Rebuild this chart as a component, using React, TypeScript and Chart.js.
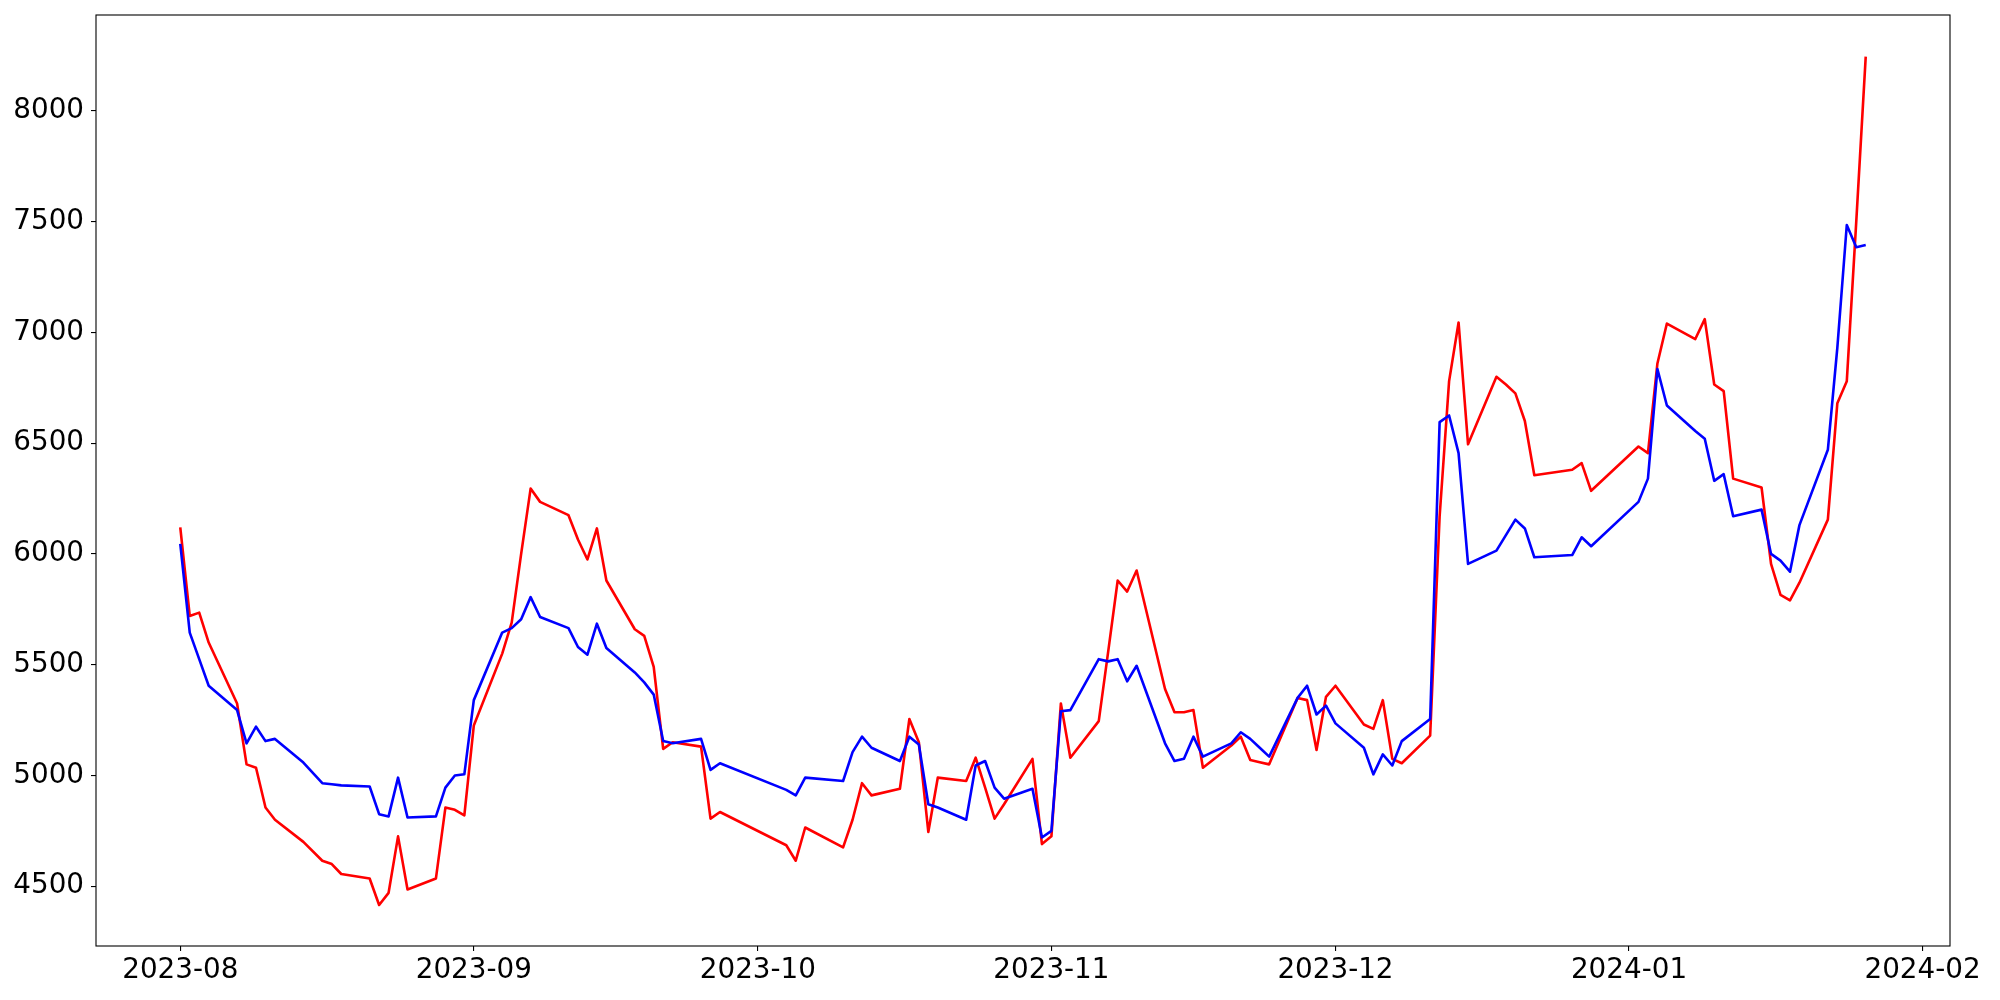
import React, { useEffect, useRef } from "react";
import { Chart, registerables } from "chart.js";

Chart.register(...registerables);

// Trading dates (Aug 2023 - Jan 2024)
const dates: string[] = [
  "2023-08-01", "2023-08-02", "2023-08-03", "2023-08-04", "2023-08-07", "2023-08-08", "2023-08-09", "2023-08-10", "2023-08-11",
  "2023-08-14", "2023-08-16", "2023-08-17", "2023-08-18", "2023-08-21", "2023-08-22", "2023-08-23", "2023-08-24", "2023-08-25",
  "2023-08-28", "2023-08-29", "2023-08-30", "2023-08-31",
  "2023-09-01", "2023-09-04", "2023-09-05", "2023-09-06", "2023-09-07", "2023-09-08", "2023-09-11", "2023-09-12", "2023-09-13",
  "2023-09-14", "2023-09-15", "2023-09-18", "2023-09-19", "2023-09-20", "2023-09-21", "2023-09-22", "2023-09-25", "2023-09-26",
  "2023-09-27",
  "2023-10-04", "2023-10-05", "2023-10-06", "2023-10-10", "2023-10-11", "2023-10-12", "2023-10-13", "2023-10-16", "2023-10-17",
  "2023-10-18", "2023-10-19", "2023-10-20", "2023-10-23", "2023-10-24", "2023-10-25", "2023-10-26", "2023-10-27", "2023-10-30",
  "2023-10-31",
  "2023-11-01", "2023-11-02", "2023-11-03", "2023-11-06", "2023-11-07", "2023-11-08", "2023-11-09", "2023-11-10", "2023-11-13",
  "2023-11-14", "2023-11-15", "2023-11-16", "2023-11-17", "2023-11-20", "2023-11-21", "2023-11-22", "2023-11-23", "2023-11-24",
  "2023-11-27", "2023-11-28", "2023-11-29", "2023-11-30",
  "2023-12-01", "2023-12-04", "2023-12-05", "2023-12-06", "2023-12-07", "2023-12-08", "2023-12-11", "2023-12-12", "2023-12-13",
  "2023-12-14", "2023-12-15", "2023-12-18", "2023-12-19", "2023-12-20", "2023-12-21", "2023-12-22", "2023-12-26", "2023-12-27",
  "2023-12-28",
  "2024-01-02", "2024-01-03", "2024-01-04", "2024-01-05", "2024-01-08", "2024-01-09", "2024-01-10", "2024-01-11", "2024-01-12",
  "2024-01-15", "2024-01-16", "2024-01-17", "2024-01-18", "2024-01-19", "2024-01-22", "2024-01-23", "2024-01-24", "2024-01-25",
  "2024-01-26",
];

const redValues: number[] = [
  6120, 5720, 5735, 5600, 5325, 5050, 5035, 4855, 4800, 4700, 4615, 4600, 4555, 4535, 4415, 4470, 4725, 4485, 4535, 4855, 4845, 4820,
  5225, 5550, 5690, 6000, 6295, 6235, 6175, 6065, 5975, 6115, 5880, 5660, 5630, 5490, 5120, 5150, 5130, 4805, 4835,
  4685, 4615, 4765, 4675, 4800, 4965, 4910, 4940, 5255, 5150, 4745, 4990, 4975, 5080, 4945, 4805, 4870, 5075, 4690,
  4725, 5325, 5080, 5245, 5560, 5880, 5830, 5925, 5390, 5285, 5285, 5295, 5035, 5135, 5175, 5070, 5060, 5050, 5350, 5340, 5115, 5355,
  5405, 5230, 5210, 5340, 5075, 5055, 5180, 6170, 6780, 7045, 6495, 6800, 6765, 6725, 6600, 6355, 6380, 6410, 6285,
  6485, 6455, 6860, 7040, 6970, 7060, 6765, 6735, 6340, 6300, 5955, 5815, 5790, 5870, 6155, 6680, 6780, 7500, 8245,
];

const blueValues: number[] = [
  6045, 5645, 5525, 5405, 5295, 5145, 5220, 5155, 5165, 5058, 4965, 4960, 4955, 4950, 4825, 4815, 4990, 4810, 4815, 4945, 5000, 5005,
  5340, 5645, 5665, 5705, 5805, 5715, 5665, 5580, 5545, 5685, 5575, 5465, 5420, 5365, 5155, 5145, 5165, 5025, 5055,
  4935, 4910, 4990, 4975, 5105, 5175, 5125, 5065, 5175, 5140, 4870, 4855, 4800, 5045, 5065, 4945, 4895, 4940, 4720,
  4750, 5290, 5295, 5525, 5515, 5525, 5425, 5495, 5145, 5065, 5075, 5175, 5085, 5145, 5195, 5165, 5125, 5085, 5350, 5405, 5275, 5315,
  5235, 5125, 5005, 5095, 5045, 5155, 5255, 6595, 6625, 6455, 5955, 6015, 6085, 6155, 6115, 5985, 5995, 6075, 6035,
  6235, 6340, 6835, 6670, 6555, 6520, 6330, 6360, 6170, 6200, 6000, 5970, 5920, 6130, 6470, 6930, 7485, 7385, 7395,
];

const monthTicks: string[] = ["2023-08-01", "2023-09-01", "2023-10-01", "2023-11-01", "2023-12-01", "2024-01-01", "2024-02-01"];
const yTicks: number[] = [4500, 5000, 5500, 6000, 6500, 7000, 7500, 8000];
const yMin = 4230;
const yMax = 8433;

const toMs = (s: string) => {
  const [y, m, d] = s.split("-").map(Number);
  return Date.UTC(y, m - 1, d);
};

const FONT = { family: "DejaVu Sans", size: 27.8 };

const frame = {
  id: "frame",
  afterDatasetsDraw(chart: any) {
    const { ctx } = chart;
    const xs = chart.scales.x;
    const ys = chart.scales.y;
    ctx.save();
    ctx.strokeStyle = "#000";
    ctx.lineWidth = 1.1;
    ctx.strokeRect(xs.left, ys.top, xs.right - xs.left, ys.bottom - ys.top);
    ctx.restore();
  },
};

export default function App() {
  const ref = useRef<HTMLCanvasElement | null>(null);

  useEffect(() => {
    if (!ref.current) return;
    const xs = dates.map(toMs);
    const span = xs[xs.length - 1] - xs[0];
    const xMin = xs[0] - span * 0.05;
    const xMax = xs[xs.length - 1] + span * 0.05;

    const chart = new Chart(ref.current, {
      type: "line",
      data: {
        datasets: [
          {
            data: xs.map((x, i) => ({ x, y: redValues[i] })),
            borderColor: "#ff0000",
            borderWidth: 2.6,
            pointRadius: 0,
            tension: 0,
            order: 2,
            borderJoinStyle: "round",
          },
          {
            data: xs.map((x, i) => ({ x, y: blueValues[i] })),
            borderColor: "#0000ff",
            borderWidth: 2.6,
            pointRadius: 0,
            tension: 0,
            order: 1,
            borderJoinStyle: "round",
          },
        ],
      },
      options: {
        responsive: false,
        animation: false,
        layout: { padding: { left: 0, top: 15, right: 50, bottom: 0 } },
        plugins: { legend: { display: false }, tooltip: { enabled: false } },
        scales: {
          x: {
            type: "linear",
            min: xMin,
            max: xMax,
            afterBuildTicks: (scale: any) => {
              scale.ticks = monthTicks.map((s) => ({ value: toMs(s) }));
            },
            afterFit: (scale: any) => {
              scale.height = 54;
              scale.paddingLeft = 0;
              scale.paddingRight = 0;
            },
            ticks: {
              autoSkip: false,
              maxRotation: 0,
              color: "#000",
              font: FONT,
              padding: 3,
              callback: (v: any) => {
                const d = new Date(Number(v));
                const m = d.getUTCMonth() + 1;
                return `${d.getUTCFullYear()}-${m < 10 ? "0" + m : m}`;
              },
            },
            grid: { drawOnChartArea: false, drawTicks: true, tickLength: 5, color: "#000", lineWidth: 1.1 },
            border: { display: false },
          },
          y: {
            type: "linear",
            min: yMin,
            max: yMax,
            afterBuildTicks: (scale: any) => {
              scale.ticks = yTicks.map((v) => ({ value: v }));
            },
            afterFit: (scale: any) => {
              scale.width = 96;
              scale.paddingTop = 0;
              scale.paddingBottom = 0;
            },
            ticks: { color: "#000", font: FONT, padding: 7, callback: (v: any) => String(v) },
            grid: { drawOnChartArea: false, drawTicks: true, tickLength: 5, color: "#000", lineWidth: 1.1 },
            border: { display: false },
          },
        },
      },
      plugins: [frame],
    } as any);
    return () => chart.destroy();
  }, []);

  return (
    <div style={{ position: "fixed", left: 0, top: 0, width: 2000, height: 1000, background: "#fff" }}>
      <canvas ref={ref} width={2000} height={1000} style={{ width: 2000, height: 1000, display: "block" }} />
    </div>
  );
}
